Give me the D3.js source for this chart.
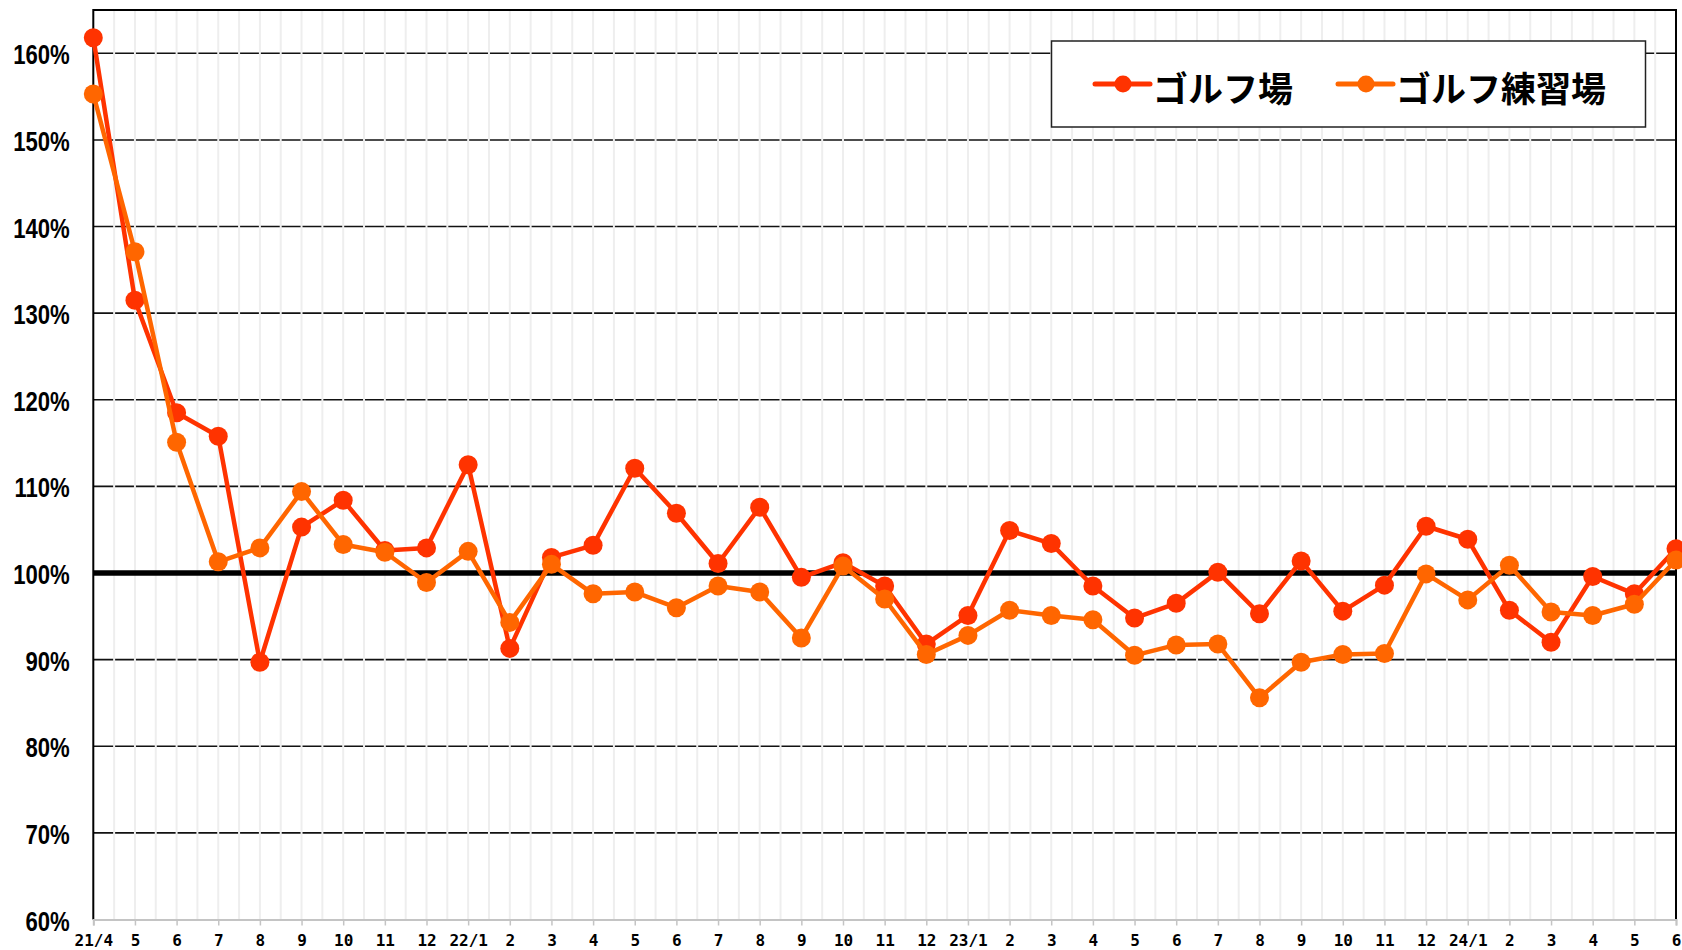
<!DOCTYPE html>
<html>
<head>
<meta charset="utf-8">
<script src="https://cdn.jsdelivr.net/npm/d3@7"></script>
<style>
  html, body { margin: 0; padding: 0; background: #fff; }
  svg { display: block; }
</style>
</head>
<body>
<svg id="chart"></svg>
<script>
const monthLabels = ["21/4", "5", "6", "7", "8", "9", "10", "11", "12",
    "22/1", "2", "3", "4", "5", "6", "7", "8", "9", "10", "11", "12",
    "23/1", "2", "3", "4", "5", "6", "7", "8", "9", "10", "11", "12",
    "24/1", "2", "3", "4", "5", "6"];

const golfCourse = [161.8, 131.5, 118.5, 115.8, 89.7, 105.3, 108.4, 102.6, 102.9,
    112.5, 91.3, 101.8, 103.2, 112.1, 106.9, 101.1, 107.6, 99.5, 101.2, 98.5, 91.8,
    95.1, 104.9, 103.4, 98.5, 94.8, 96.5, 100.1, 95.3, 101.4, 95.6, 98.6, 105.4,
    103.9, 95.7, 92.0, 99.6, 97.6, 102.8];

const practiceRange = [155.3, 137.1, 115.1, 101.3, 102.9, 109.4, 103.3, 102.4, 98.9,
    102.5, 94.3, 101.0, 97.6, 97.8, 96.0, 98.5, 97.8, 92.5, 100.8, 97.0, 90.6,
    92.8, 95.7, 95.1, 94.6, 90.5, 91.7, 91.8, 85.6, 89.7, 90.6, 90.7, 99.9,
    96.9, 100.9, 95.5, 95.1, 96.4, 101.5];

const yTicks = [60, 70, 80, 90, 100, 110, 120, 130, 140, 150, 160];

const series = [
    { name: "ゴルフ場", values: golfCourse, color: "#ff3300" },
    { name: "ゴルフ練習場", values: practiceRange, color: "#ff6600" }
];

const width = 1682, height = 950;
const plot = { left: 93.3, right: 1676, top: 10, bottom: 919.5 };

const svg = d3.select("#chart")
    .attr("width", width)
    .attr("height", height);

const x = d3.scaleLinear()
    .domain([0, monthLabels.length - 1])
    .range([plot.left, plot.right]);

const y = d3.scaleLinear()
    .domain([60, 165])
    .range([plot.bottom, plot.top]);

// horizontal grid (solid, light verticals are painted over it)
svg.append("g")
    .selectAll("line")
    .data(yTicks.filter(d => d !== 60 && d !== 100))
    .enter().append("line")
    .attr("x1", plot.left).attr("x2", plot.right)
    .attr("y1", d => y(d)).attr("y2", d => y(d))
    .attr("stroke", "#111")
    .attr("stroke-width", 1.6);

// light vertical grid every half month
svg.append("g")
    .selectAll("line")
    .data(d3.range(1, (monthLabels.length - 1) * 2).map(i => i / 2))
    .enter().append("line")
    .attr("x1", d => x(d)).attr("x2", d => x(d))
    .attr("y1", plot.top + 1).attr("y2", plot.bottom)
    .attr("stroke", "#eeeeee")
    .attr("stroke-width", 2);

// frame: top, right, left
svg.append("path")
    .attr("d", `M${plot.left},${plot.bottom}V${plot.top}H${plot.right}V${plot.bottom}`)
    .attr("fill", "none")
    .attr("stroke", "#000")
    .attr("stroke-width", 2);

// bottom axis
const xAxis = svg.append("g")
    .attr("transform", `translate(0,${plot.bottom})`)
    .call(d3.axisBottom(x)
        .tickValues(d3.range(monthLabels.length))
        .tickFormat(i => monthLabels[i])
        .tickSize(6)
        .tickPadding(6));
xAxis.select(".domain").attr("stroke", "#c4c4c4").attr("stroke-width", 2);
xAxis.selectAll(".tick line").attr("stroke", "#c4c4c4").attr("stroke-width", 1.5);
xAxis.selectAll(".tick text")
    .attr("fill", "#000")
    .attr("y", 0)
    .attr("dy", "26.5px")
    .style("font-family", "'DejaVu Sans Mono', monospace")
    .style("font-weight", "bold")
    .style("font-size", "16px");

// left labels (squeezed horizontally to look like a narrow gothic face)
const squeeze = 0.82;
const yAxis = svg.append("g")
    .attr("transform", `translate(${plot.left},0)`)
    .call(d3.axisLeft(y)
        .tickValues(yTicks)
        .tickFormat(d => d + "%")
        .tickSize(0)
        .tickPadding(23));
yAxis.select(".domain").remove();
yAxis.selectAll(".tick text")
    .attr("fill", "#000")
    .attr("x", -23.5 / squeeze)
    .attr("dy", "10.5px")
    .attr("transform", `scale(${squeeze},1)`)
    .style("font-family", "'Liberation Sans', Arial, sans-serif")
    .style("font-weight", "bold")
    .style("font-size", "27px");

// 100% reference line
svg.append("line")
    .attr("x1", plot.left).attr("x2", plot.right)
    .attr("y1", y(100)).attr("y2", y(100))
    .attr("stroke", "#000")
    .attr("stroke-width", 5.5);

const line = d3.line()
    .x((d, i) => x(i))
    .y(d => y(d));

series.forEach(s => {
    const g = svg.append("g");
    g.append("path")
        .datum(s.values)
        .attr("d", line)
        .attr("fill", "none")
        .attr("stroke", s.color)
        .attr("stroke-width", 4.5)
        .attr("stroke-linejoin", "round");
    g.selectAll("circle")
        .data(s.values)
        .enter().append("circle")
        .attr("cx", (d, i) => x(i))
        .attr("cy", d => y(d))
        .attr("r", 9.5)
        .attr("fill", s.color);
});

// legend
const legend = svg.append("g");
legend.append("rect")
    .attr("x", 1051.5).attr("y", 41)
    .attr("width", 594).attr("height", 86)
    .attr("fill", "#fff")
    .attr("stroke", "#222")
    .attr("stroke-width", 1.5);

const legendX = [1095, 1338];
series.forEach((s, i) => {
    const lg = legend.append("g").attr("transform", `translate(${legendX[i]},84)`);
    lg.append("line")
        .attr("x1", 0).attr("x2", 55)
        .attr("stroke", s.color)
        .attr("stroke-width", 5)
        .attr("stroke-linecap", "round");
    lg.append("circle")
        .attr("cx", 28).attr("r", 8.5)
        .attr("fill", s.color);
    lg.append("text")
        .attr("x", 58)
        .attr("y", 2)
        .attr("dominant-baseline", "central")
        .style("font-family", "'Noto Sans CJK JP', sans-serif")
        .style("font-weight", "bold")
        .style("font-size", "35px")
        .text(s.name);
});
</script>
</body>
</html>
